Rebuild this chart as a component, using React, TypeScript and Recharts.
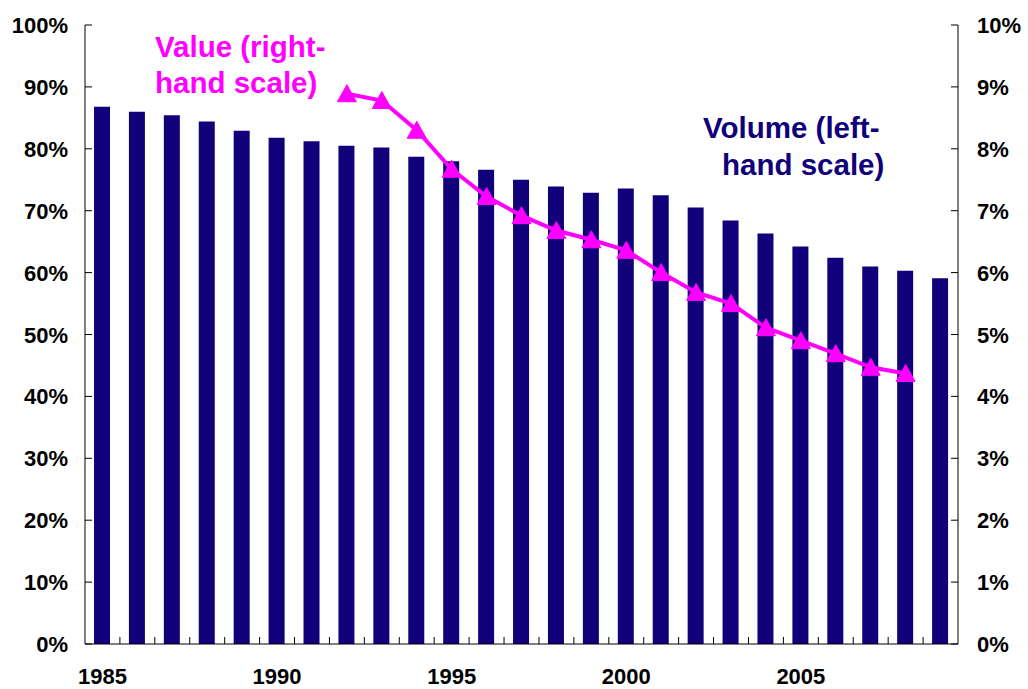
import { ComposedChart, Bar, Line, XAxis, YAxis } from "recharts";

const years = [
  1985, 1986, 1987, 1988, 1989, 1990, 1991, 1992, 1993, 1994, 1995, 1996, 1997,
  1998, 1999, 2000, 2001, 2002, 2003, 2004, 2005, 2006, 2007, 2008, 2009,
];
// volume, % (left-hand scale)
const volume = [
  86.8, 86.0, 85.4, 84.4, 82.9, 81.8, 81.2, 80.5, 80.2, 78.7, 78.0, 76.6, 75.0,
  73.9, 72.9, 73.6, 72.5, 70.5, 68.4, 66.3, 64.2, 62.4, 61.0, 60.3, 59.1,
];
// value, % (right-hand scale)
const value = [
  null, null, null, null, null, null, null, 8.89, 8.78, 8.3, 7.67, 7.23, 6.92,
  6.68, 6.53, 6.36, 6.0, 5.68, 5.5, 5.11, 4.9, 4.69, 4.47, 4.37, null,
];
const leftTicks = [0, 10, 20, 30, 40, 50, 60, 70, 80, 90, 100];
const rightTicks = [0, 1, 2, 3, 4, 5, 6, 7, 8, 9, 10];
const labelledYears = [1985, 1990, 1995, 2000, 2005];

const data = years.map((year, i) => ({ year, volume: volume[i], value: value[i] }));

const W = 1028;
const H = 689;
const LEFT_W = 85;
const RIGHT_W = 70;
const BAND = (W - LEFT_W - RIGHT_W) / years.length;
const NAVY = "#10007a";
const MAGENTA = "#ff00ff";
const FONT = "'Liberation Sans', Arial, sans-serif";

function LeftTick({ x, y, payload }: any) {
  return (
    <g>
      <line x1={x} x2={x + 7} y1={y} y2={y} stroke="#000" />
      <text x={x - 17} y={y} dy={8} textAnchor="end" fontSize={22} fontWeight="bold" fontFamily={FONT} fill="#000">
        {payload.value}%
      </text>
    </g>
  );
}

function RightTick({ x, y, payload }: any) {
  return (
    <g>
      <line x1={x - 7} x2={x} y1={y} y2={y} stroke="#000" />
      <text x={x + 19} y={y} dy={8} textAnchor="start" fontSize={22} fontWeight="bold" fontFamily={FONT} fill="#000">
        {payload.value}%
      </text>
    </g>
  );
}

function YearTick({ x, y, payload, index }: any) {
  const last = index === years.length - 1;
  return (
    <g>
      {!last && <line x1={x + BAND / 2} x2={x + BAND / 2} y1={y} y2={y - 7} stroke="#000" />}
      {labelledYears.includes(payload.value) && (
        <text x={x} y={y + 40} textAnchor="middle" fontSize={22} fontWeight="bold" fontFamily={FONT} fill="#000">
          {payload.value}
        </text>
      )}
    </g>
  );
}

function Triangle({ cx, cy, value: v }: any) {
  if (v == null || cx == null || cy == null) return <g />;
  return (
    <path
      d={`M${cx},${cy - 9} L${cx + 9.5},${cy + 8} L${cx - 9.5},${cy + 8} Z`}
      fill={MAGENTA}
      stroke={MAGENTA}
    />
  );
}

export default function App() {
  return (
    <div style={{ position: "absolute", left: 0, top: 0, width: W, height: H, background: "#fff" }}>
      <ComposedChart width={W} height={H} data={data} margin={{ top: 25, right: 0, bottom: 0, left: 0 }}>
        <XAxis
          dataKey="year"
          height={45}
          interval={0}
          tickSize={0}
          tickMargin={0}
          tickLine={false}
          tick={<YearTick />}
          axisLine={{ stroke: "#000" }}
        />
        <YAxis
          yAxisId="left"
          orientation="left"
          width={LEFT_W}
          domain={[0, 100]}
          ticks={leftTicks}
          interval={0}
          tickSize={0}
          tickMargin={0}
          tickLine={false}
          tick={<LeftTick />}
          axisLine={{ stroke: "#000" }}
        />
        <YAxis
          yAxisId="right"
          orientation="right"
          width={RIGHT_W}
          domain={[0, 10]}
          ticks={rightTicks}
          interval={0}
          tickSize={0}
          tickMargin={0}
          tickLine={false}
          tick={<RightTick />}
          axisLine={{ stroke: "#000" }}
        />
        <Bar yAxisId="left" dataKey="volume" fill={NAVY} barSize={16} isAnimationActive={false} />
        <Line
          yAxisId="right"
          dataKey="value"
          type="linear"
          stroke={MAGENTA}
          strokeWidth={4}
          dot={<Triangle />}
          activeDot={false}
          connectNulls={false}
          isAnimationActive={false}
        />
      </ComposedChart>
      <svg
        width={W}
        height={H}
        style={{ position: "absolute", left: 0, top: 0, pointerEvents: "none" }}
      >
        <g fontFamily={FONT} fontWeight="bold" fontSize={29.5}>
          <text x={155} y={57} fill={MAGENTA}>Value (right-</text>
          <text x={155} y={93} fill={MAGENTA}>hand scale)</text>
          <text x={703} y={138} fill={NAVY}>Volume (left-</text>
          <text x={722} y={175} fill={NAVY}>hand scale)</text>
        </g>
      </svg>
    </div>
  );
}
